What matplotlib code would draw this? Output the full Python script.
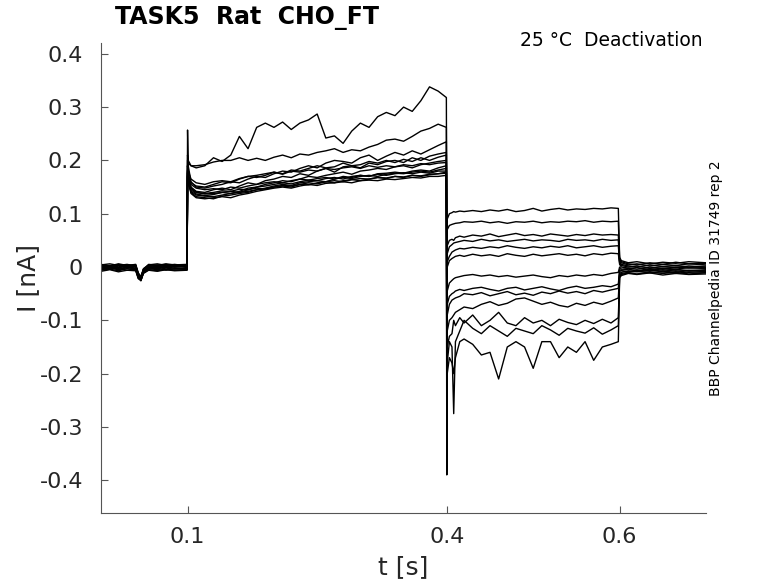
import matplotlib
matplotlib.use("Agg")
import matplotlib.pyplot as plt

# time grids (s) for the four protocol segments
t_pre = [0.0, 0.01, 0.02, 0.03, 0.04, 0.043, 0.046, 0.049, 0.055, 0.065, 0.075, 0.085, 0.0995]
t_pulse = [0.1, 0.1008, 0.104, 0.11, 0.12, 0.13, 0.14, 0.15, 0.16, 0.17, 0.18, 0.19, 0.20,
           0.21, 0.22, 0.23, 0.24, 0.25, 0.26, 0.27, 0.28, 0.29, 0.30, 0.31, 0.32, 0.33,
           0.34, 0.35, 0.36, 0.37, 0.38, 0.39, 0.3995]
t_deact = [0.4, 0.4005, 0.403, 0.406, 0.408, 0.41, 0.415, 0.42, 0.43, 0.44, 0.45, 0.46, 0.47,
           0.48, 0.49, 0.50, 0.51, 0.52, 0.53, 0.54, 0.55, 0.56, 0.57, 0.58, 0.59, 0.5985]
t_post = [0.6, 0.602, 0.61, 0.62, 0.635, 0.65, 0.665, 0.68, 0.7]

# current (nA), one row per sweep
i_pre = [
    [0.004, 0.006, 0.003, 0.005, 0.002, -0.012, -0.02, -0.004, 0.005, 0.003, 0.006, 0.004, 0.005],
    [0.002, 0.0, 0.004, 0.001, 0.003, -0.015, -0.022, -0.006, 0.002, 0.004, 0.001, 0.003, 0.002],
    [-0.002, 0.001, -0.001, 0.002, -0.003, -0.018, -0.025, -0.008, 0.0, -0.002, 0.002, 0.0, 0.001],
    [0.0, -0.003, 0.002, -0.002, 0.001, -0.016, -0.021, -0.007, -0.002, 0.001, -0.001, 0.002, -0.001],
    [-0.004, -0.002, -0.005, -0.001, -0.004, -0.02, -0.026, -0.01, -0.003, -0.005, -0.002, -0.004, -0.003],
    [0.001, 0.003, 0.0, 0.004, 0.002, -0.014, -0.019, -0.005, 0.003, 0.0, 0.004, 0.001, 0.003],
    [-0.006, -0.004, -0.007, -0.003, -0.006, -0.022, -0.024, -0.011, -0.005, -0.007, -0.004, -0.006, -0.005],
    [0.003, 0.001, 0.005, 0.002, 0.004, -0.013, -0.02, -0.004, 0.001, 0.003, 0.005, 0.002, 0.004],
    [-0.003, 0.0, -0.004, -0.001, -0.002, -0.017, -0.023, -0.009, -0.001, -0.003, 0.0, -0.002, -0.004],
    [0.005, 0.002, 0.006, 0.003, 0.005, -0.011, -0.018, -0.003, 0.004, 0.006, 0.003, 0.005, 0.002],
    [-0.008, -0.005, -0.009, -0.006, -0.007, -0.021, -0.025, -0.012, -0.006, -0.008, -0.005, -0.007, -0.006],
    [0.0, 0.002, -0.002, 0.003, 0.0, -0.016, -0.022, -0.006, 0.001, -0.001, 0.002, 0.0, 0.001],
    [-0.005, -0.002, -0.003, -0.006, -0.004, -0.019, -0.024, -0.01, -0.004, -0.002, -0.006, -0.003, -0.004],
]

i_pulse = [
    [0.21, 0.20, 0.19, 0.186, 0.19, 0.205, 0.198, 0.21, 0.245, 0.222, 0.262, 0.27, 0.262, 0.272, 0.258, 0.27,
     0.276, 0.287, 0.242, 0.246, 0.232, 0.255, 0.27, 0.262, 0.282, 0.29, 0.284, 0.3, 0.292, 0.312, 0.338, 0.33, 0.318],
    [0.2, 0.195, 0.19, 0.19, 0.192, 0.197, 0.2, 0.2, 0.205, 0.2, 0.204, 0.2, 0.206, 0.21, 0.205, 0.212,
     0.21, 0.215, 0.218, 0.222, 0.215, 0.22, 0.218, 0.225, 0.23, 0.238, 0.24, 0.236, 0.245, 0.255, 0.26, 0.268, 0.262],
    [0.257, 0.19, 0.16, 0.15, 0.148, 0.152, 0.155, 0.16, 0.158, 0.165, 0.17, 0.168, 0.175, 0.18, 0.178, 0.185,
     0.19, 0.186, 0.195, 0.2, 0.198, 0.195, 0.205, 0.21, 0.2, 0.208, 0.215, 0.21, 0.218, 0.212, 0.22, 0.228, 0.235],
    [0.18, 0.17, 0.15, 0.142, 0.14, 0.145, 0.148, 0.145, 0.152, 0.158, 0.155, 0.162, 0.165, 0.17, 0.168, 0.175,
     0.172, 0.18, 0.185, 0.178, 0.188, 0.19, 0.186, 0.195, 0.192, 0.198, 0.2, 0.196, 0.205, 0.2, 0.208, 0.212, 0.215],
    [0.19, 0.175, 0.158, 0.152, 0.15, 0.155, 0.16, 0.158, 0.165, 0.17, 0.168, 0.172, 0.178, 0.175, 0.182, 0.18,
     0.185, 0.19, 0.186, 0.188, 0.195, 0.19, 0.192, 0.198, 0.195, 0.2, 0.196, 0.202, 0.198, 0.205, 0.2, 0.206, 0.21],
    [0.175, 0.165, 0.145, 0.137, 0.134, 0.136, 0.14, 0.138, 0.142, 0.148, 0.15, 0.155, 0.158, 0.162, 0.16, 0.165,
     0.17, 0.168, 0.172, 0.175, 0.178, 0.174, 0.18, 0.182, 0.185, 0.183, 0.188, 0.19, 0.186, 0.192, 0.195, 0.198, 0.2],
    [0.19, 0.18, 0.165, 0.158, 0.155, 0.16, 0.162, 0.16, 0.166, 0.17, 0.172, 0.175, 0.178, 0.174, 0.18, 0.178,
     0.182, 0.18, 0.185, 0.183, 0.186, 0.188, 0.185, 0.19, 0.187, 0.19, 0.188, 0.192, 0.19, 0.194, 0.192, 0.195, 0.196],
    [0.178, 0.168, 0.148, 0.14, 0.138, 0.14, 0.143, 0.142, 0.146, 0.145, 0.15, 0.152, 0.155, 0.158, 0.156, 0.16,
     0.163, 0.162, 0.166, 0.168, 0.165, 0.17, 0.172, 0.17, 0.175, 0.176, 0.178, 0.176, 0.18, 0.182, 0.18, 0.186, 0.19],
    [0.17, 0.16, 0.14, 0.132, 0.13, 0.128, 0.133, 0.135, 0.138, 0.14, 0.145, 0.148, 0.152, 0.155, 0.153, 0.158,
     0.16, 0.162, 0.16, 0.165, 0.168, 0.166, 0.17, 0.172, 0.17, 0.174, 0.176, 0.175, 0.178, 0.18, 0.178, 0.182, 0.185],
    [0.182, 0.172, 0.155, 0.148, 0.145, 0.147, 0.145, 0.15, 0.148, 0.152, 0.155, 0.158, 0.16, 0.158, 0.162, 0.165,
     0.163, 0.166, 0.168, 0.165, 0.17, 0.168, 0.172, 0.17, 0.174, 0.172, 0.175, 0.177, 0.175, 0.178, 0.176, 0.18, 0.18],
    [0.172, 0.162, 0.142, 0.135, 0.133, 0.132, 0.135, 0.138, 0.14, 0.142, 0.145, 0.147, 0.15, 0.152, 0.15, 0.155,
     0.158, 0.156, 0.16, 0.162, 0.16, 0.164, 0.166, 0.165, 0.168, 0.167, 0.17, 0.168, 0.172, 0.17, 0.173, 0.175, 0.176],
    [0.168, 0.158, 0.138, 0.13, 0.128, 0.13, 0.132, 0.13, 0.135, 0.138, 0.142, 0.145, 0.148, 0.15, 0.148, 0.152,
     0.155, 0.153, 0.157, 0.158, 0.16, 0.158, 0.162, 0.163, 0.162, 0.165, 0.164, 0.166, 0.168, 0.167, 0.17, 0.17, 0.172],
    [0.176, 0.166, 0.148, 0.14, 0.137, 0.138, 0.14, 0.142, 0.14, 0.145, 0.148, 0.146, 0.15, 0.153, 0.152, 0.155,
     0.154, 0.158, 0.16, 0.158, 0.162, 0.164, 0.162, 0.165, 0.168, 0.166, 0.17, 0.169, 0.172, 0.171, 0.174, 0.175, 0.178],
]

i_deact = [
    [0.02, 0.09, 0.1, 0.102, 0.104, 0.103, 0.105, 0.104, 0.106, 0.104, 0.107, 0.105, 0.108, 0.104, 0.106, 0.11,
     0.105, 0.108, 0.11, 0.107, 0.109, 0.108, 0.11, 0.109, 0.111, 0.11],
    [0.0, 0.07, 0.078, 0.08, 0.081, 0.082, 0.083, 0.085, 0.084, 0.086, 0.083, 0.085, 0.082, 0.085, 0.084, 0.086,
     0.083, 0.085, 0.084, 0.086, 0.085, 0.087, 0.084, 0.086, 0.085, 0.086],
    [-0.02, 0.04, 0.05, 0.052, 0.05, 0.055, 0.058, 0.056, 0.06, 0.058, 0.062, 0.057, 0.06, 0.063, 0.059, 0.061,
     0.058, 0.062, 0.06, 0.058, 0.061, 0.059, 0.062, 0.06, 0.061, 0.06],
    [-0.03, 0.025, 0.038, 0.042, 0.045, 0.046, 0.048, 0.05, 0.048, 0.052, 0.049, 0.051, 0.048, 0.05, 0.052, 0.049,
     0.051, 0.05, 0.048, 0.052, 0.05, 0.051, 0.049, 0.052, 0.05, 0.051],
    [-0.05, 0.01, 0.02, 0.028, 0.03, 0.032, 0.035, 0.034, 0.037, 0.035, 0.038, 0.036, 0.04, 0.037, 0.035, 0.038,
     0.036, 0.039, 0.037, 0.04, 0.036, 0.038, 0.04, 0.037, 0.039, 0.04],
    [-0.06, 0.0, 0.012, 0.016, 0.018, 0.02, 0.022, 0.02, 0.024, 0.021, 0.023, 0.02, 0.025, 0.022, 0.02, 0.024,
     0.021, 0.023, 0.025, 0.022, 0.024, 0.021, 0.025, 0.023, 0.026, 0.025],
    [-0.1, -0.045, -0.03, -0.025, -0.022, -0.02, -0.018, -0.016, -0.014, -0.017, -0.015, -0.018, -0.016, -0.019,
     -0.017, -0.015, -0.018, -0.02, -0.016, -0.018, -0.015, -0.017, -0.014, -0.016, -0.012, -0.01],
    [-0.13, -0.07, -0.055, -0.05, -0.048, -0.045, -0.042, -0.044, -0.04, -0.038, -0.042, -0.045, -0.04, -0.038,
     -0.043, -0.04, -0.037, -0.041, -0.044, -0.039, -0.036, -0.04, -0.038, -0.035, -0.037, -0.032],
    [-0.15, -0.09, -0.07, -0.062, -0.06, -0.058, -0.055, -0.05, -0.052, -0.048, -0.054, -0.05, -0.046, -0.052,
     -0.049, -0.053, -0.047, -0.05, -0.045, -0.049, -0.046, -0.05, -0.044, -0.047, -0.043, -0.04],
    [-0.17, -0.12, -0.1, -0.095, -0.09, -0.085, -0.08, -0.075, -0.078, -0.07, -0.065, -0.072, -0.068, -0.06,
     -0.058, -0.064, -0.07, -0.066, -0.072, -0.075, -0.068, -0.072, -0.066, -0.07, -0.064, -0.058],
    [-0.2, -0.15, -0.13, -0.125, -0.1, -0.11, -0.095, -0.105, -0.09, -0.11, -0.1, -0.085, -0.105, -0.11,
     -0.095, -0.105, -0.1, -0.11, -0.098, -0.104, -0.108, -0.1, -0.106, -0.098, -0.105, -0.095],
    [-0.25, -0.18, -0.14, -0.15, -0.275, -0.14, -0.12, -0.1, -0.115, -0.125, -0.11, -0.12, -0.13, -0.115,
     -0.12, -0.125, -0.11, -0.118, -0.128, -0.115, -0.12, -0.124, -0.114, -0.126, -0.118, -0.11],
    [-0.39, -0.2, -0.17, -0.18, -0.2, -0.17, -0.14, -0.135, -0.145, -0.165, -0.16, -0.21, -0.15, -0.14,
     -0.15, -0.19, -0.14, -0.14, -0.17, -0.15, -0.16, -0.14, -0.175, -0.15, -0.145, -0.14],
]

i_post = [
    [0.018, 0.012, 0.008, 0.01, 0.006, 0.009, 0.007, 0.01, 0.008],
    [0.015, 0.01, 0.006, 0.004, 0.008, 0.005, 0.009, 0.006, 0.007],
    [0.012, 0.008, 0.004, 0.006, 0.002, 0.005, 0.003, 0.006, 0.004],
    [0.01, 0.005, 0.002, 0.0, 0.004, 0.001, 0.003, 0.0, 0.002],
    [0.008, 0.003, 0.0, 0.002, -0.002, 0.001, -0.001, 0.002, 0.0],
    [0.005, 0.0, -0.002, -0.004, 0.0, -0.003, 0.0, -0.002, -0.001],
    [0.0, -0.004, -0.003, -0.001, -0.005, -0.002, -0.004, -0.001, -0.003],
    [-0.005, -0.006, -0.004, -0.007, -0.003, -0.006, -0.004, -0.007, -0.005],
    [-0.008, -0.007, -0.009, -0.006, -0.008, -0.005, -0.008, -0.006, -0.007],
    [-0.012, -0.01, -0.007, -0.009, -0.006, -0.009, -0.007, -0.01, -0.008],
    [-0.015, -0.012, -0.01, -0.008, -0.011, -0.009, -0.012, -0.009, -0.01],
    [-0.018, -0.014, -0.011, -0.013, -0.01, -0.012, -0.01, -0.013, -0.011],
    [-0.02, -0.016, -0.012, -0.014, -0.011, -0.015, -0.012, -0.014, -0.013],
]

x_ticks = [0.1, 0.4, 0.6]
y_ticks = [-0.4, -0.3, -0.2, -0.1, 0, 0.1, 0.2, 0.3, 0.4]
y_ticklabels = ["-0.4", "-0.3", "-0.2", "-0.1", "0", "0.1", "0.2", "0.3", "0.4"]

fig = plt.figure(figsize=(7.78, 5.83), dpi=100)
ax = fig.add_axes([0.130, 0.120, 0.7775, 0.806])

t_all = t_pre + t_pulse + t_deact + t_post
for k in range(len(i_pulse)):
    sweep = i_pre[k] + i_pulse[k] + i_deact[k] + i_post[k]
    ax.plot(t_all, sweep, color="black", lw=1.0)

ax.set_xlim(0.0, 0.7)
ax.set_ylim(-0.4615, 0.42)
ax.set_xticks(x_ticks)
ax.set_xticklabels([str(v) for v in x_ticks])
ax.set_yticks(y_ticks)
ax.set_yticklabels(y_ticklabels)

for side in ["top", "right"]:
    ax.spines[side].set_visible(False)
for side in ["left", "bottom"]:
    ax.spines[side].set_color("#555555")
    ax.spines[side].set_linewidth(0.8)
ax.tick_params(direction="in", length=5, width=0.8, color="#555555",
               labelsize=16, labelcolor="#262626")
ax.tick_params(axis="y", pad=13)
ax.tick_params(axis="x", pad=10)

ax.set_xlabel("t [s]", fontsize=18, color="#262626", va="center")
ax.xaxis.set_label_coords(0.5, -0.115)
ax.set_ylabel("I [nA]", fontsize=18, color="#262626", va="center")
ax.yaxis.set_label_coords(-0.121, 0.5)

fig.text(0.148, 0.969, "TASK5  Rat  CHO_FT", fontsize=17, fontweight="bold",
         ha="left", va="center")
fig.text(0.9036, 0.931, "25 °C  Deactivation", fontsize=13.5, ha="right", va="center")
fig.text(0.920, 0.523, "BBP Channelpedia ID 31749 rep 2", fontsize=10,
         rotation=90, ha="center", va="center")

fig.savefig("out.png", dpi=100)
